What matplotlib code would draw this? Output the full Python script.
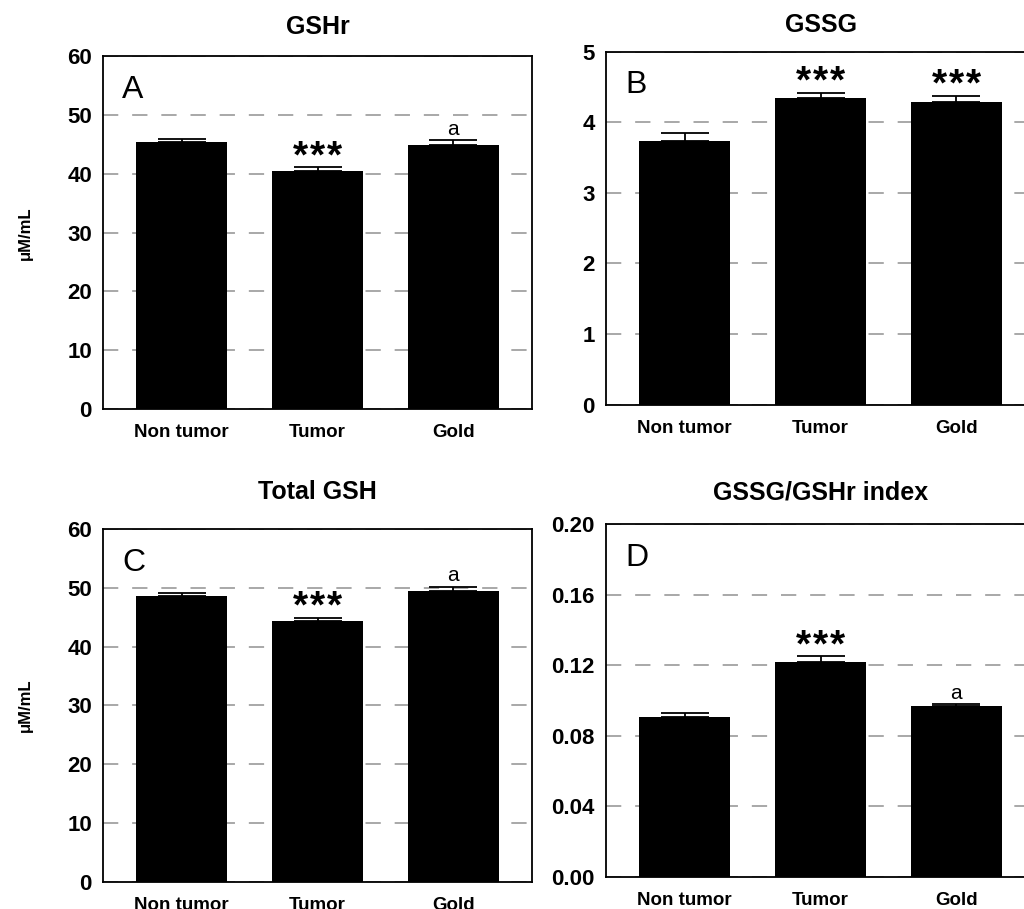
import matplotlib
matplotlib.use("Agg")
import matplotlib.pyplot as plt
import numpy as np

plt.rcParams['font.family'] = ['Liberation Sans', 'DejaVu Sans']
plt.rcParams['lines.scale_dashes'] = False

groups = ["Non tumor", "Tumor", "Gold"]

# panel A - GSHr
gshr = [45.4, 40.55, 45.0]
gshr_err = [0.6, 0.55, 0.75]
# panel B - GSSG
gssg = [3.73, 4.35, 4.29]
gssg_err = [0.12, 0.07, 0.09]
# panel C - total GSH
total = [48.6, 44.3, 49.4]
total_err = [0.55, 0.6, 0.8]
# panel D - GSSG/GSHr index
index = [0.0908, 0.1219, 0.0969]
index_err = [0.0023, 0.003, 0.0010]

# significance marks over each bar
marks_A = ["", "***", "a"]
marks_B = ["", "***", "***"]
marks_C = ["", "***", "a"]
marks_D = ["", "***", "a"]

fig = plt.figure(figsize=(10.24, 9.09), dpi=100)
FW, FH = 1024.0, 909.0

W = 0.419
H = 0.388
panels = [
    # rect, title, title y (px), letter, vals, errs, marks, ymax, step, fmt, ylabel
    ([0.1006, 0.550, W, H], "GSHr", 27, "A", gshr, gshr_err, marks_A, 60, 10, "%d", True),
    ([0.5918, 0.555, W, H], "GSSG", 25, "B", gssg, gssg_err, marks_B, 5, 1, "%d", False),
    ([0.1006, 0.030, W, H], "Total GSH", 492, "C", total, total_err, marks_C, 60, 10, "%d", True),
    ([0.5918, 0.0355, W, H], "GSSG/GSHr index", 493, "D", index, index_err, marks_D, 0.2, 0.04, "%.2f", False),
]

for rect, title, ty, letter, vals, errs, marks, ymax, step, fmt, ylab in panels:
    ax = fig.add_axes(rect)
    x = np.arange(len(groups))
    ax.bar(x, vals, width=0.67, color="black", zorder=2)
    ax.errorbar(x, vals, yerr=[np.zeros(len(errs)), errs], fmt="none",
                ecolor="black", elinewidth=1.3, capsize=17, capthick=1.3, zorder=3)
    ax.set_xlim(-0.58, 2.58)
    ax.set_ylim(0, ymax)
    ticks = np.arange(0, ymax + step / 2, step)
    ax.set_yticks(ticks)
    ax.set_yticklabels([fmt % t for t in ticks], fontsize=16, fontweight="bold")
    ax.set_xticks(x)
    ax.set_xticklabels(groups, fontsize=13.5, fontweight="bold")
    ax.tick_params(axis="both", length=0)
    ax.tick_params(axis="y", pad=8)
    ax.tick_params(axis="x", pad=11)
    ax.yaxis.grid(True, color="#999999", linewidth=1.2, linestyle=(0, (11, 10)))
    ax.set_axisbelow(True)
    for s in ax.spines.values():
        s.set_linewidth(1.3)
    cx = rect[0] + rect[2] / 2
    fig.text(cx, 1 - ty / FH, title, fontsize=18, fontweight="bold",
             ha="center", va="center")
    ax.text(0.045, 0.905, letter, transform=ax.transAxes, fontsize=23,
            va="center", ha="left")
    for i, m in enumerate(marks):
        top = vals[i] + errs[i]
        if m == "***":
            # three separate stars, spaced like the original
            for dx in (-12.2, 0, 12.2):
                ax.annotate("*", (x[i], top), xytext=(dx, 0),
                            textcoords="offset points", ha="center", va="baseline",
                            fontsize=28, fontweight="bold")
        elif m == "a":
            ax.annotate(m, (x[i], top), xytext=(0, 4),
                        textcoords="offset points", ha="center", va="baseline",
                        fontsize=15)
    if ylab:
        fig.text(25 / FW, rect[1] + rect[3] / 2, "μM/mL", fontsize=12,
                 fontweight="bold", rotation=90, ha="center", va="center")

fig.savefig("out.png", dpi=100)
